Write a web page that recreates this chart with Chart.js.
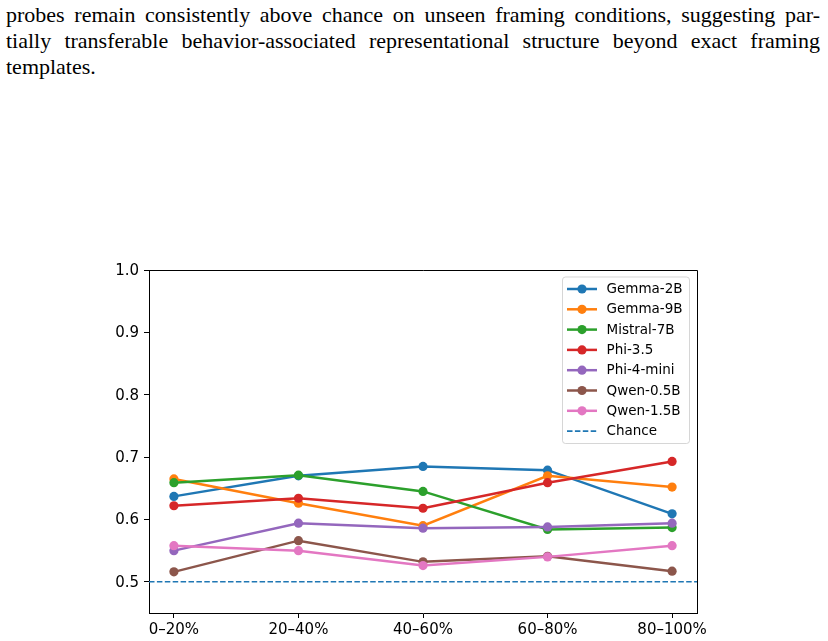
<!DOCTYPE html>
<html>
<head>
<meta charset="utf-8">
<script src="https://cdn.jsdelivr.net/npm/chart.js@4.4.0/dist/chart.umd.min.js"></script>
<style>
  html, body { margin: 0; padding: 0; background: #fff; }
  #page { position: relative; width: 828px; height: 641px; overflow: hidden; background: #fff; }
  #text { position: absolute; left: 6px; top: 0px; width: 814px; font-family: "Liberation Serif", serif; font-size: 22px; color: #000; }
  .ln { height: 26px; line-height: 26px; white-space: nowrap; }
  .j { text-align: justify; text-align-last: justify; }
  #c { position: absolute; left: 0; top: 0; }
</style>
</head>
<body>
<div id="page">
  <div id="text">
    <div class="ln j" style="margin-top:2px">probes remain consistently above chance on unseen framing conditions, suggesting par-</div>
    <div class="ln j">tially transferable behavior-associated representational structure beyond exact framing</div>
    <div class="ln">templates.</div>
  </div>
  <canvas id="c" width="828" height="641"></canvas>
</div>
<script>
const categories = ["0\u201320%", "20\u201340%", "40\u201360%", "60\u201380%", "80\u2013100%"];
const seriesNames = ["Gemma-2B", "Gemma-9B", "Mistral-7B", "Phi-3.5", "Phi-4-mini", "Qwen-0.5B", "Qwen-1.5B"];
const gemma2b  = [0.637, 0.670, 0.685, 0.679, 0.609];
const gemma9b  = [0.665, 0.626, 0.590, 0.670, 0.652];
const mistral7b = [0.659, 0.671, 0.645, 0.584, 0.587];
const phi35    = [0.622, 0.634, 0.618, 0.659, 0.693];
const phi4mini = [0.550, 0.594, 0.586, 0.588, 0.594];
const qwen05b  = [0.516, 0.566, 0.532, 0.541, 0.517];
const qwen15b  = [0.558, 0.550, 0.526, 0.540, 0.558];
const chanceLevel = 0.5;
const yTickValues = [0.5, 0.6, 0.7, 0.8, 0.9, 1.0];

const seriesValues = [gemma2b, gemma9b, mistral7b, phi35, phi4mini, qwen05b, qwen15b];
const colors = ["#1f77b4", "#ff7f0e", "#2ca02c", "#d62728", "#9467bd", "#8c564b", "#e377c2"];

const LW = 2.5, PR = 4.6;
const datasets = seriesValues.map((vals, i) => ({
  label: seriesNames[i],
  data: vals.map((v, k) => ({ x: k, y: v })),
  borderColor: colors[i],
  backgroundColor: colors[i],
  borderWidth: LW,
  pointRadius: PR,
  pointBorderWidth: 0,
  pointHoverRadius: PR,
  pointBackgroundColor: colors[i],
  order: seriesValues.length - i + 1,
  tension: 0
}));
datasets.push({
  label: "Chance",
  data: [{ x: -0.2, y: chanceLevel }, { x: categories.length - 1 + 0.2, y: chanceLevel }],
  borderColor: "#1f77b4",
  borderWidth: 1.6,
  borderDash: [5.5, 2.4],
  pointRadius: 0,
  order: 0,
  isChance: true
});

const FONT = "DejaVu Sans";

const framePlugin = {
  id: "frame",
  afterDraw(chart) {
    const ctx = chart.ctx, a = chart.chartArea;
    ctx.save();
    ctx.strokeStyle = "#000";
    ctx.lineWidth = 1;
    ctx.beginPath();
    ctx.moveTo(a.left, a.top + 0.5);
    ctx.lineTo(a.right + 0.5, a.top + 0.5);
    ctx.lineTo(a.right + 0.5, a.bottom);
    ctx.stroke();
    ctx.restore();

    // legend
    const bx = 562.5, by = 277, bw = 127, bh = 166.5, r = 3;
    ctx.save();
    ctx.beginPath();
    ctx.moveTo(bx + r, by);
    ctx.lineTo(bx + bw - r, by);
    ctx.arcTo(bx + bw, by, bx + bw, by + r, r);
    ctx.lineTo(bx + bw, by + bh - r);
    ctx.arcTo(bx + bw, by + bh, bx + bw - r, by + bh, r);
    ctx.lineTo(bx + r, by + bh);
    ctx.arcTo(bx, by + bh, bx, by + bh - r, r);
    ctx.lineTo(bx, by + r);
    ctx.arcTo(bx, by, bx + r, by, r);
    ctx.closePath();
    ctx.fillStyle = "rgba(255,255,255,0.8)";
    ctx.fill();
    ctx.strokeStyle = "rgba(204,204,204,0.8)";
    ctx.lineWidth = 1;
    ctx.stroke();
    ctx.font = "13.5px '" + FONT + "'";
    ctx.textBaseline = "middle";
    ctx.textAlign = "left";
    chart.data.datasets.forEach((ds, i) => {
      const y = 289 + i * 20.3;
      ctx.strokeStyle = ds.borderColor;
      ctx.lineWidth = ds.isChance ? 1.6 : LW;
      ctx.setLineDash(ds.isChance ? [5.5, 2.4] : []);
      ctx.beginPath();
      ctx.moveTo(567, y);
      ctx.lineTo(597, y);
      ctx.stroke();
      ctx.setLineDash([]);
      if (!ds.isChance) {
        ctx.fillStyle = ds.borderColor;
        ctx.beginPath();
        ctx.arc(582, y, PR, 0, Math.PI * 2);
        ctx.fill();
      }
      ctx.fillStyle = "#000";
      ctx.fillText(ds.label, 606.5, y + 0.5);
    });
    ctx.restore();
  }
};

new Chart(document.getElementById("c"), {
  type: "line",
  data: { datasets },
  options: {
    responsive: false,
    animation: false,
    devicePixelRatio: 1,
    layout: { padding: { top: 270, right: 131, bottom: 0, left: 0 } },
    plugins: { legend: { display: false }, tooltip: { enabled: false } },
    scales: {
      x: {
        type: "linear",
        min: -0.2,
        max: categories.length - 1 + 0.2,
        afterBuildTicks: (s) => { s.ticks = categories.map((c, i) => ({ value: i })); },
        afterFit: (s) => { s.height = 28; },
        ticks: {
          callback: (v) => categories[v],
          font: { family: FONT, size: 15 },
          color: "#000",
          padding: 3,
          maxRotation: 0,
          autoSkip: false
        },
        grid: { display: true, drawOnChartArea: false, drawTicks: true, tickLength: 5, color: "#000", tickWidth: 1 },
        border: { display: true, color: "#000", width: 1 }
      },
      y: {
        type: "linear",
        min: 0.45,
        max: 1.0,
        afterBuildTicks: (s) => { s.ticks = yTickValues.map(v => ({ value: v })); },
        afterFit: (s) => { s.width = 149; },
        ticks: {
          callback: (v) => Number(v).toFixed(1),
          font: { family: FONT, size: 15 },
          color: "#000",
          padding: 5,
          labelOffset: 1
        },
        grid: { display: true, drawOnChartArea: false, drawTicks: true, tickLength: 5, color: "#000", tickWidth: 1 },
        border: { display: true, color: "#000", width: 1 }
      }
    }
  },
  plugins: [framePlugin]
});
</script>
</body>
</html>
